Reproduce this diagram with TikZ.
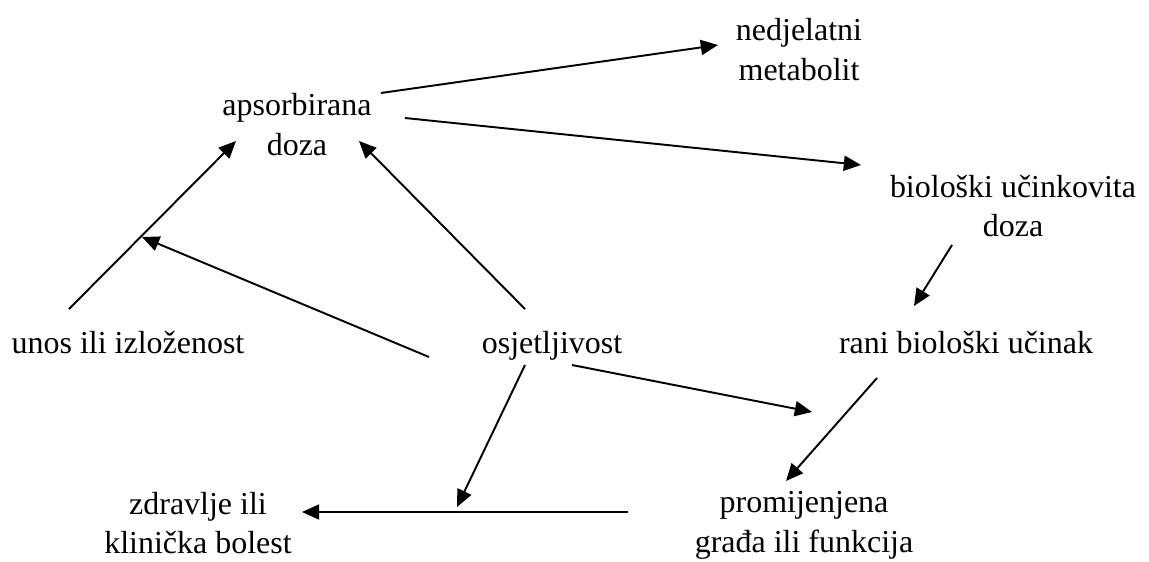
\documentclass[tikz,border=0pt]{standalone}
\usepackage{fontspec}
\setmainfont{Liberation Serif}
\usetikzlibrary{arrows.meta}
\begin{document}
\begin{tikzpicture}[x=0.02cm,y=-0.02cm,
  lbl/.style={align=center,inner sep=0pt,font=\fontsize{18.2}{22.7}\selectfont},
  arr/.style={line width=1.1pt,-{Triangle[length=9.8pt,width=8.6pt]}}]
\useasboundingbox (0,0) rectangle (1149,561);
% labels
\node[lbl] (ned) at (799,50) {nedjelatni\\metabolit};
\node[lbl] (aps) at (297,125) {apsorbirana\\doza};
\node[lbl] (bud) at (1013,206) {biološki učinkovita\\doza};
\node[lbl] (uno) at (128,343) {unos ili izloženost};
\node[lbl] (osj) at (552,346) {osjetljivost};
\node[lbl] (ran) at (966,343) {rani biološki učinak};
\node[lbl] (zdr) at (198,523) {zdravlje ili\\klinička bolest};
\node[lbl] (pro) at (804,525) {promijenjena\\građa ili funkcija};
% connector end points
\coordinate (a1s) at (381,93);   \coordinate (a1e) at (718,45);
\coordinate (a2s) at (405,118);  \coordinate (a2e) at (861,165);
\coordinate (a3s) at (69,309);   \coordinate (a3e) at (236,141);
\coordinate (a4s) at (429,357);  \coordinate (a4e) at (142,237);
\coordinate (a5s) at (525,309);  \coordinate (a5e) at (359,141);
\coordinate (a6s) at (952,245);  \coordinate (a6e) at (914,306);
\coordinate (a7s) at (572,365);  \coordinate (a7e) at (812,412);
\coordinate (a8s) at (877,378);  \coordinate (a8e) at (786,481);
\coordinate (a9s) at (525,365);  \coordinate (a9e) at (457,507);
\coordinate (a10s) at (628,512); \coordinate (a10e) at (302,512);
% connectors
\draw[arr] (a1s) -- (a1e);
\draw[arr] (a2s) -- (a2e);
\draw[arr] (a3s) -- (a3e);
\draw[arr] (a4s) -- (a4e);
\draw[arr] (a5s) -- (a5e);
\draw[arr] (a6s) -- (a6e);
\draw[arr] (a7s) -- (a7e);
\draw[arr] (a8s) -- (a8e);
\draw[arr] (a9s) -- (a9e);
\draw[arr] (a10s) -- (a10e);
\end{tikzpicture}
\end{document}
